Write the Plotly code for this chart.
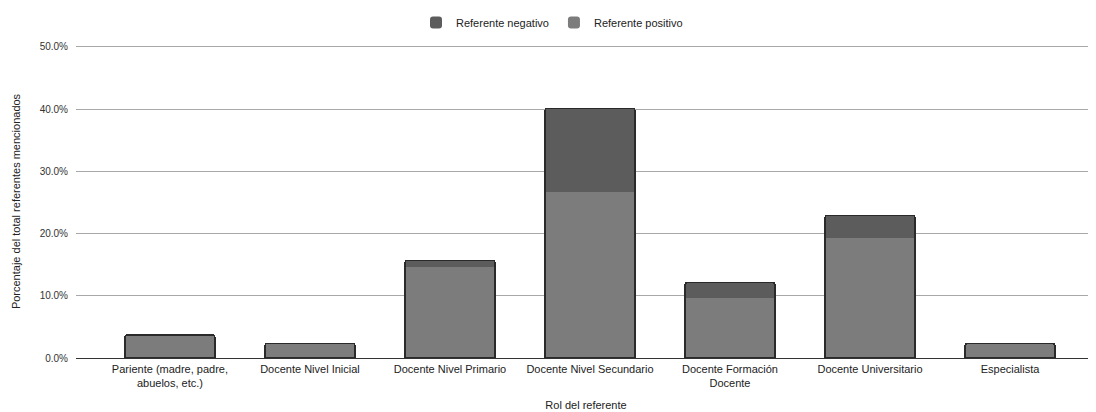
import plotly.graph_objects as go

categories = [
    "Pariente (madre, padre,<br>abuelos, etc.)",
    "Docente Nivel Inicial",
    "Docente Nivel Primario",
    "Docente Nivel Secundario",
    "Docente Formación<br>Docente",
    "Docente Universitario",
    "Especialista",
]
positivo = [3.7, 2.35, 14.6, 26.7, 9.7, 19.35, 2.3]
negativo = [0.0, 0.0, 1.1, 13.4, 2.4, 3.55, 0.0]
total = [p + n for p, n in zip(positivo, negativo)]
y_ticks = [0, 10, 20, 30, 40, 50]

FONT = "Liberation Sans, Arial, sans-serif"
C_POS = "#7c7c7c"
C_NEG = "#5c5c5c"
C_EDGE = "#2a2a2a"

fig = go.Figure()
fig.add_trace(go.Bar(x=categories, y=positivo, name="Referente positivo",
                     marker=dict(color=C_POS, line=dict(width=0)), width=0.64))
fig.add_trace(go.Bar(x=categories, y=negativo, name="Referente negativo",
                     marker=dict(color=C_NEG, line=dict(width=0)), width=0.64))
fig.add_trace(go.Bar(x=categories, y=total, showlegend=False, xaxis="x2",
                     marker=dict(color="rgba(0,0,0,0)", line=dict(color=C_EDGE, width=1.5)),
                     width=0.64, hoverinfo="skip"))

xrange = [-0.671, 6.614]
fig.update_layout(
    width=1088, height=404,
    margin=dict(l=68, r=0, t=37, b=54, autoexpand=False),
    paper_bgcolor="white", plot_bgcolor="white",
    barmode="stack", barcornerradius=2,
    font=dict(family=FONT, size=11, color="#222"),
    legend=dict(orientation="h", traceorder="reversed", x=0.5, xanchor="center",
                y=1.0, yanchor="top", yref="container", xref="container",
                font=dict(size=11, color="#222"), itemwidth=30),
    xaxis=dict(range=xrange, showgrid=False, ticks="", tickfont=dict(size=11, color="#222"),
               automargin=False, ticklabelstandoff=3,
               title=dict(text="Rol del referente", font=dict(size=11, color="#222"), standoff=13),
               showline=False, zeroline=False),
    xaxis2=dict(range=xrange, overlaying="x", visible=False),
    yaxis=dict(range=[0, 50.3], tickvals=y_ticks, ticktext=[f"{v:.1f}%" for v in y_ticks],
               showgrid=True, gridcolor="#a8a8a8", gridwidth=1, automargin=False,
               zeroline=True, zerolinecolor="#333", zerolinewidth=1.2,
               tickfont=dict(size=10, color="#333"), ticks="", ticklen=0, ticklabelstandoff=7,
               title=dict(text="Porcentaje del total referentes mencionados",
                          font=dict(size=11, color="#222"), standoff=16)),
)
fig.write_html("out.html")
